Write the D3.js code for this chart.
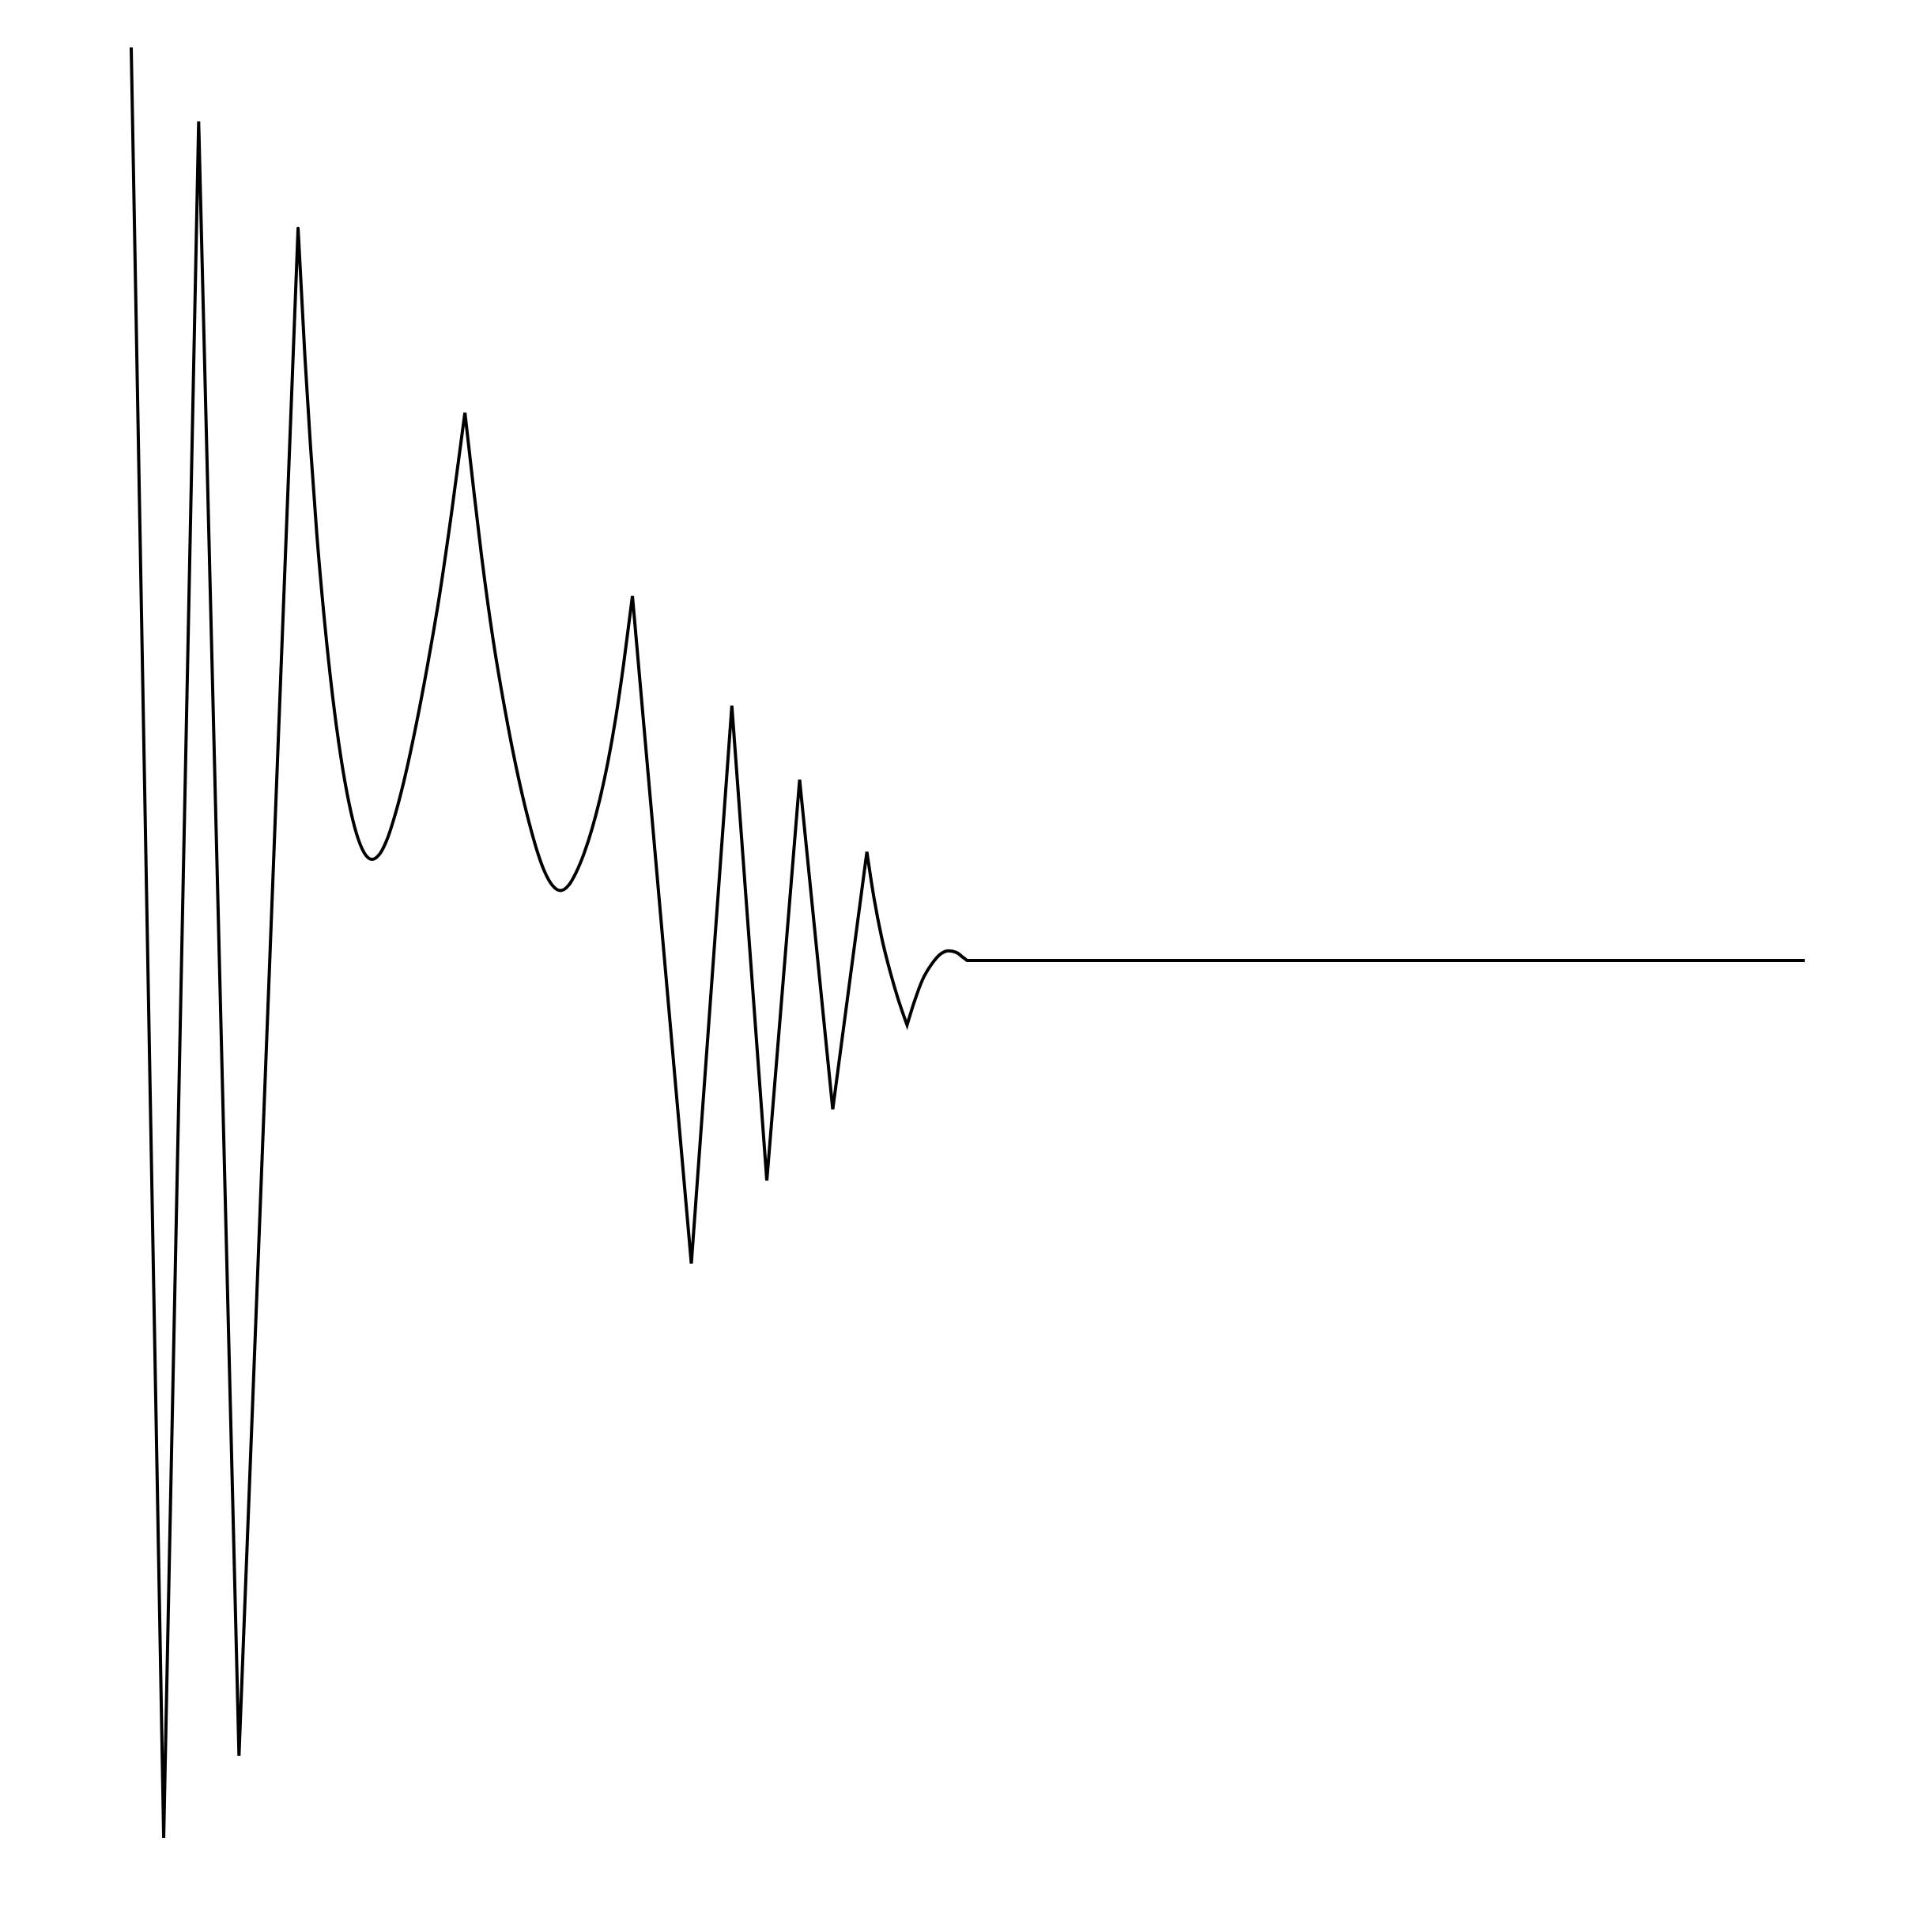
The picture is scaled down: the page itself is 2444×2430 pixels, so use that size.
<!DOCTYPE html>
<html>
<head>
<meta charset="utf-8">
<script src="https://cdn.jsdelivr.net/npm/d3@7"></script>
<style>
  html, body { margin: 0; padding: 0; background: #ffffff; }
  svg { display: block; }
</style>
</head>
<body>
<script>
// ---- data ----
const tValues = [
  0, 1.94, 4.03, 6.44, 9.97,
  10.38, 10.71, 11.09, 11.56, 12.03, 12.50, 12.98, 13.45, 13.92, 14.39,
  14.87, 15.34, 15.81, 16.28, 16.99, 17.70, 18.41, 19.12, 19.94,
  20.45, 20.93, 21.63, 22.34, 23.05, 23.76, 24.23, 24.70, 25.18, 25.65,
  26.12, 26.59, 27.07, 27.54, 28.01, 28.48, 28.96, 29.43, 29.95,
  33.47, 35.89, 37.98, 39.94, 41.92, 43.96,
  44.39, 44.85, 45.36, 45.82, 46.36,
  46.80, 47.27, 47.82, 48.37, 48.84, 49.31, 49.71, 49.94,
  100
];
const yValues = [
  1.000, -0.961, 0.919, -0.871, 0.802,
  0.661, 0.564, 0.467, 0.370, 0.290, 0.226, 0.1755, 0.1396, 0.1180, 0.1108,
  0.1172, 0.1351, 0.1623, 0.1953, 0.2549, 0.3229, 0.3986, 0.4874, 0.6000,
  0.5177, 0.4437, 0.3506, 0.2739, 0.2076, 0.1521, 0.1214, 0.0974, 0.0820, 0.0766,
  0.0820, 0.0967, 0.1179, 0.1445, 0.1773, 0.2169, 0.2667, 0.3255, 0.3992,
  -0.332, 0.279, -0.241, 0.198, -0.163, 0.119,
  0.0678, 0.0245, -0.0130, -0.0418, -0.0707,
  -0.0448, -0.0216, -0.0043, 0.0072, 0.0106, 0.0087, 0.0033, 0,
  0
];
// pieces of the series: index ranges and whether each is smooth
const segmentStart  = [0, 4, 23, 42, 48, 53, 61];
const segmentEnd    = [4, 23, 42, 48, 53, 61, 62];
const segmentSmooth = [false, true, true, false, true, true, false];

// ---- layout ----
const W = 2444, H = 2430;
const svg = d3.select("body").append("svg")
  .attr("width", W).attr("height", H)
  .attr("viewBox", `0 0 ${W} ${H}`);
svg.append("rect").attr("width", W).attr("height", H).attr("fill", "#fff");

const x = d3.scaleLinear().domain([0, 100]).range([166, 2283]);
const y = d3.scaleLinear().domain([0, 1]).range([1215, 60]);

const points = tValues.map((t, i) => ({ t, v: yValues[i] }));

const linear = d3.line().x(d => x(d.t)).y(d => y(d.v)).curve(d3.curveLinear);
const smooth = d3.line().x(d => x(d.t)).y(d => y(d.v)).curve(d3.curveMonotoneX);

let dStr = "";
segmentStart.forEach((s, k) => {
  const piece = points.slice(s, segmentEnd[k] + 1);
  let p = (segmentSmooth[k] ? smooth : linear)(piece);
  if (k > 0) p = p.replace(/^M/, "L");
  dStr += p;
});

svg.append("path")
  .attr("d", dStr)
  .attr("fill", "none")
  .attr("stroke", "#000")
  .attr("stroke-width", 4);
</script>
</body>
</html>
